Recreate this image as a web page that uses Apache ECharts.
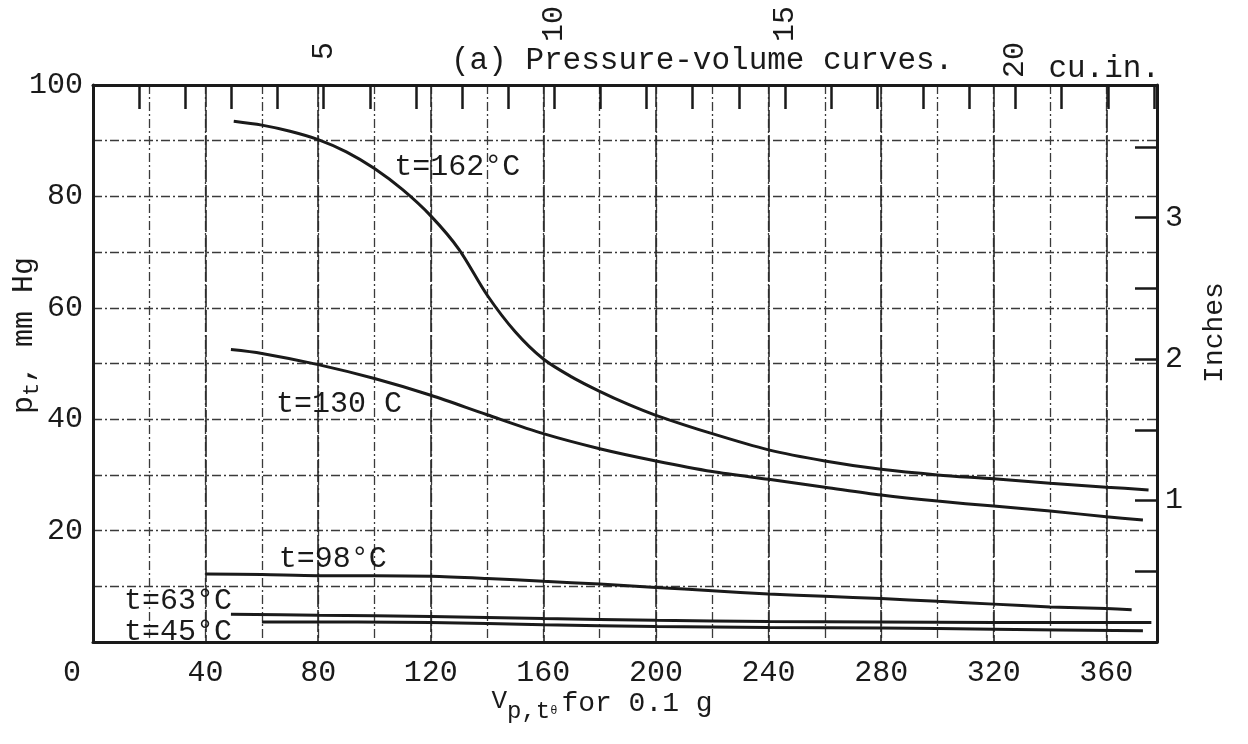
<!DOCTYPE html>
<html>
<head>
<meta charset="utf-8">
<script src="https://cdn.jsdelivr.net/npm/echarts@6/dist/echarts.min.js"></script>
<style>
html,body{margin:0;padding:0;background:#fff;}
#chart{width:1248px;height:744px;}
</style>
</head>
<body>
<div id="chart"></div>
<script>
// ---- data ----
const vol162 = [50, 60, 70, 80, 90, 100, 110, 120, 130, 140, 150, 160, 170, 180, 190, 200, 220, 240, 260, 280, 300, 320, 340, 360, 375];
const p162   = [93.5, 92.8, 91.7, 90.2, 88.0, 85.0, 81.2, 76.5, 70.5, 62.3, 55.7, 50.8, 47.6, 45.0, 42.7, 40.7, 37.4, 34.5, 32.5, 31.0, 30.0, 29.3, 28.5, 27.8, 27.3];

const vol130 = [49, 60, 80, 100, 120, 140, 160, 180, 200, 220, 240, 260, 280, 300, 320, 340, 360, 373];
const p130   = [52.5, 51.8, 49.8, 47.3, 44.3, 40.8, 37.4, 34.7, 32.5, 30.6, 29.2, 27.8, 26.4, 25.3, 24.4, 23.5, 22.5, 21.9];

const vol98 = [40, 60, 80, 100, 120, 140, 160, 180, 200, 220, 240, 260, 280, 300, 320, 340, 360, 369];
const p98   = [12.2, 12.1, 11.9, 11.9, 11.8, 11.4, 10.9, 10.4, 9.8, 9.2, 8.6, 8.2, 7.8, 7.3, 6.8, 6.3, 6.0, 5.8];

const vol63 = [49, 80, 120, 160, 200, 240, 280, 320, 376];
const p63   = [5.0, 4.8, 4.6, 4.2, 3.9, 3.7, 3.6, 3.5, 3.5];

const vol45 = [60, 120, 160, 200, 240, 280, 320, 373];
const p45   = [3.6, 3.5, 3.1, 2.8, 2.6, 2.5, 2.3, 2.0];

const curveNames = ['t=162°C', 't=130 C', 't=98°C', 't=63°C', 't=45°C'];
const labelX = [107, 65, 66, 11, 11];
const labelY = [85.3, 42.7, 14.9, 7.3, 1.8];

const xTickLabels = [0, 40, 80, 120, 160, 200, 240, 280, 320, 360];
const yTickLabels = [20, 40, 60, 80, 100];
const cuInLabels = [5, 10, 15, 20];
const inchLabels = [1, 2, 3];

const CM3_PER_CUIN = 16.387;
const MMHG_PER_INCH = 25.4;
const X_MAX = 378;
const Y_MAX = 100;

// ---- chart ----
const FONT = '"Liberation Mono", "Courier New", monospace';
const INK = '#1a1a1a';
const chart = echarts.init(document.getElementById('chart'), null, {renderer: 'canvas'});

function pairs(xs, ys) { return xs.map((x, i) => [x, ys[i]]); }

const gridDash = {color: '#3a3a3a', width: 1.3, type: [9, 3, 2, 3]};
// lift of each rotated cu.in. label above the axis, in monospace character cells
const cuInLift = {5: 1, 10: 2, 15: 2, 20: 0};

const lineSeries = [[vol162, p162], [vol130, p130], [vol98, p98], [vol63, p63], [vol45, p45]].map((d, i) => ({
  type: 'line',
  name: curveNames[i],
  xAxisIndex: 0, yAxisIndex: 0,
  data: pairs(d[0], d[1]),
  smooth: 0.3,
  showSymbol: false,
  lineStyle: {color: INK, width: 3},
  z: 5
}));

const option = {
  backgroundColor: '#ffffff',
  animation: false,
  title: {
    text: '(a) Pressure-volume curves.',
    left: 446, top: 40,
    textStyle: {fontFamily: FONT, fontSize: 31, fontWeight: 'normal', color: INK}
  },
  grid: {left: 93, right: 91, top: 85, bottom: 102, containLabel: false, outerBoundsMode: 'none'},
  xAxis: [
    {
      type: 'value', position: 'bottom', min: 0, max: X_MAX, interval: 20,
      axisLine: {show: true, onZero: false, lineStyle: {color: INK, width: 3}},
      axisTick: {show: false},
      splitLine: {show: true, lineStyle: gridDash},
      axisLabel: {
        margin: 16, color: INK, fontFamily: FONT, fontSize: 30,
        formatter: v => xTickLabels.indexOf(v) < 0 ? '' : (v === 0 ? '{z|0}' : String(v)),
        rich: {z: {fontFamily: FONT, fontSize: 30, color: INK, padding: [0, 42, 0, 0]}}
      },
      name: '{v|V}{s|p,t}{o|θ}{n|for 0.1 g}',
      nameLocation: 'middle', nameGap: 46, nameMoveOverlap: false,
      nameTextStyle: {
        padding: [0, 46, 0, 0],
        rich: {
          v: {fontFamily: FONT, fontSize: 26, color: INK, verticalAlign: 'top', padding: [0, 0, 0, 0]},
          s: {fontFamily: FONT, fontSize: 24, color: INK, verticalAlign: 'top', padding: [12, 0, 0, 0]},
          o: {fontFamily: FONT, fontSize: 12, color: INK, verticalAlign: 'top', padding: [17, 4, 0, 0]},
          n: {fontFamily: FONT, fontSize: 28, color: INK, verticalAlign: 'top', padding: [2, 0, 0, 0]}
        }
      }
    },
    {
      type: 'value', position: 'top', min: 0, max: X_MAX / CM3_PER_CUIN, interval: 1,
      axisLine: {show: true, onZero: false, lineStyle: {color: INK, width: 3}},
      axisTick: {show: true, inside: true, length: 24, lineStyle: {color: INK, width: 2.5}},
      splitLine: {show: false},
      axisLabel: {
        rotate: -90, margin: 7, color: INK, fontFamily: FONT, fontSize: 30,
        formatter: v => {
          const k = Math.round(v);
          if (Math.abs(v - k) > 1e-6 || cuInLabels.indexOf(k) < 0) return '';
          return '\u00a0'.repeat(cuInLift[k]) + k;
        }
      },
      name: 'cu.in.',
      nameLocation: 'end', nameGap: 3, nameMoveOverlap: false,
      nameTextStyle: {fontFamily: FONT, fontSize: 31, color: INK, align: 'right', verticalAlign: 'bottom', padding: [0, 0, 1, 0]}
    },
    {
      type: 'value', position: 'bottom', min: 0, max: X_MAX, interval: 40,
      axisLine: {show: false}, axisTick: {show: false}, axisLabel: {show: false},
      splitLine: {show: true, lineStyle: {color: '#2a2a2a', width: 1.6, type: [22, 3]}}
    }
  ],
  yAxis: [
    {
      type: 'value', position: 'left', min: 0, max: Y_MAX, interval: 10,
      axisLine: {show: true, onZero: false, lineStyle: {color: INK, width: 3}},
      axisTick: {show: false},
      splitLine: {show: true, lineStyle: gridDash},
      axisLabel: {
        margin: 10, color: INK, fontFamily: FONT, fontSize: 30,
        formatter: v => yTickLabels.indexOf(v) < 0 ? '' : String(v)
      },
      name: '{p|p}{s|t}{n|, mm Hg}',
      nameLocation: 'middle', nameGap: 50, nameRotate: 90, nameMoveOverlap: false,
      nameTextStyle: {
        padding: [0, 0, 0, 56],
        rich: {
          p: {fontFamily: FONT, fontSize: 30, color: INK, verticalAlign: 'top', padding: [0, 0, 0, 0]},
          s: {fontFamily: FONT, fontSize: 22, color: INK, verticalAlign: 'top', padding: [12, 0, 0, 0]},
          n: {fontFamily: FONT, fontSize: 30, color: INK, verticalAlign: 'top', padding: [0, 0, 0, 0]}
        }
      }
    },
    {
      type: 'value', position: 'right', min: 0, max: Y_MAX / MMHG_PER_INCH, interval: 0.5,
      axisLine: {show: true, onZero: false, lineStyle: {color: INK, width: 3}},
      axisTick: {show: true, inside: true, length: 22, lineStyle: {color: INK, width: 2.5}},
      splitLine: {show: false},
      axisLabel: {
        margin: 8, color: INK, fontFamily: FONT, fontSize: 30,
        formatter: v => inchLabels.indexOf(v) < 0 ? '' : String(v)
      },
      name: 'Inches',
      nameLocation: 'middle', nameGap: 44, nameRotate: 90, nameMoveOverlap: false,
      nameTextStyle: {fontFamily: FONT, fontSize: 28, color: INK, padding: [0, 0, 0, 62]}
    }
  ],
  series: lineSeries.concat([{
    type: 'scatter',
    xAxisIndex: 0, yAxisIndex: 0,
    symbolSize: 0.01,
    itemStyle: {color: INK, opacity: 1},
    data: labelX.map((x, i) => ({value: [x, labelY[i]], name: curveNames[i]})),
    label: {
      show: true, position: 'right', distance: 0,
      formatter: p => p.name,
      fontFamily: FONT, fontSize: 30, color: INK, opacity: 1
    },
    labelLayout: {hideOverlap: false},
    emphasis: {disabled: true},
    z: 6
  }])
};
chart.setOption(option);
</script>
</body>
</html>
